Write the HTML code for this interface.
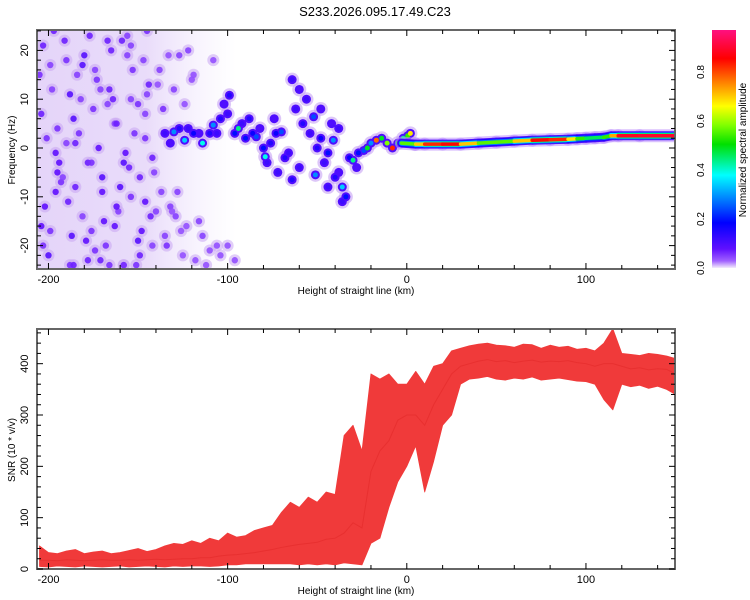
<!DOCTYPE html>
<html><head><meta charset="utf-8"><style>
html,body{margin:0;padding:0;background:#fff;}
svg{display:block;font-family:"Liberation Sans",sans-serif;}
</style></head><body>
<svg id="chart" width="750" height="600" xmlns="http://www.w3.org/2000/svg">
<defs>
<clipPath id="clipTop"><rect x="37" y="30" width="638" height="239"/></clipPath>
<clipPath id="clipBot"><rect x="37" y="329" width="638" height="240"/></clipPath>
<linearGradient id="hazeGrad" x1="0" y1="0" x2="1" y2="0">
<stop offset="0" stop-color="#cfb2f4" stop-opacity="0.55"/>
<stop offset="0.55" stop-color="#cfb2f4" stop-opacity="0.45"/>
<stop offset="1" stop-color="#e4d4fa" stop-opacity="0"/>
</linearGradient>
<linearGradient id="cbar" x1="0" y1="1" x2="0" y2="0">
<stop offset="0" stop-color="#f4ecfc"/><stop offset="0.03" stop-color="#a060ff"/>
<stop offset="0.08" stop-color="#6010ff"/><stop offset="0.19" stop-color="#0000ff"/>
<stop offset="0.29" stop-color="#0080ff"/><stop offset="0.39" stop-color="#00ffff"/>
<stop offset="0.52" stop-color="#00e000"/><stop offset="0.6" stop-color="#80ff00"/>
<stop offset="0.68" stop-color="#ffff00"/><stop offset="0.78" stop-color="#ff8000"/>
<stop offset="0.88" stop-color="#ff0000"/><stop offset="1" stop-color="#ff1080"/>
</linearGradient>
</defs>
<text x="375" y="16" text-anchor="middle" font-size="13">S233.2026.095.17.49.C23</text>
<g id="topPanel"></g>
<g id="botPanel"></g>
<g id="cbPanel"></g>
</svg>
<script>
// ---------- data ----------
const noiseKm=[-203,-198,-194,-190,-186,-181,-177,-172,-168,-164,-160,-156,-152,-148,-144,-141,-200,-195,-189,-184,-179,-175,-170,-165,-161,-157,-153,-149,-146,-201,-196,-191,-187,-182,-178,-173,-169,-163,-159,-154,-150,-145,-142,-204,-199,-193,-185,-180,-174,-167,-162,-155,-151,-147,-143,-138,-134,-130,-126,-122,-118,-136,-128,-120,-114,-110,-104,-132,-124,-116,-108,-100,-96,-188,-171,-158,
 -205,-202,-197,-192,-188,-183,-178,-174,-170,-166,-162,-158,-154,-150,-146,-142,-139,-204,-199,-195,-190,-185,-181,-176,-171,-167,-163,-158,-154,-149,-145,-140,-137,-133,-129,-125,-203,-196,-186,-176,-166,-156,-146,-135,-131,-127,-123,-119,-112,-106];
const noiseF=[21,12,-3,18,6,-14,23,0,-20,10,-8,19,3,-17,13,-5,-22,4,-11,15,-19,8,-6,20,-13,-1,16,-22,7,2,-9,22,-18,10,-3,14,-15,5,22,-10,-19,11,-2,-16,17,-7,1,19,-21,9,-12,-4,-24,18,-14,16,-20,12,-17,20,-23,8,-9,14,-18,-21,-22,-12,9,-15,18,-20,-23,-24,-23,-24,
 15,-12,24,-6,11,3,-23,16,-9,-24,5,-3,21,9,-11,-20,13,7,-17,-5,1,-8,17,-3,12,22,-16,-24,10,-6,24,-13,-9,19,-14,-22,-20,-1,-24,-17,12,23,2,-18,-13,19,-16,15,-24,-20];
const noiseA=[0.07,0.05,0.08,0.06,0.09,0.05,0.07,0.08,0.06,0.07,0.09,0.05,0.06,0.08,0.07,0.05,0.09,0.06,0.07,0.05,0.08,0.06,0.09,0.07,0.05,0.08,0.06,0.07,0.05,0.06,0.08,0.07,0.09,0.05,0.07,0.06,0.08,0.05,0.07,0.06,0.09,0.05,0.07,0.08,0.05,0.06,0.07,0.09,0.06,0.05,0.08,0.07,0.06,0.05,0.07,0.05,0.06,0.05,0.04,0.05,0.04,0.06,0.05,0.04,0.05,0.04,0.04,0.05,0.04,0.05,0.04,0.04,0.04,0.06,0.07,0.06,
 0.06,0.08,0.07,0.05,0.09,0.06,0.07,0.05,0.08,0.06,0.07,0.09,0.05,0.06,0.08,0.05,0.04,0.07,0.06,0.08,0.05,0.07,0.09,0.06,0.05,0.07,0.08,0.06,0.05,0.07,0.06,0.05,0.05,0.04,0.05,0.04,0.06,0.08,0.07,0.06,0.07,0.05,0.06,0.05,0.04,0.05,0.04,0.04,0.04,0.04];
const trailKm=[-135,-130,-127,-124,-119,-114,-110,-108,-104,-100,-99,-96,-94,-90,-86,-84,-80,-79,-76,-73,-70,-68,-64,-64,-62,-58,-56,-52,-51,-50,-48,-46,-44,-41,-40,-38,-36,-34,-32,-30,-27,-24,-22,-20,-17,-14,-11,-8,-5,-2,0.5,2,4.5,-60,-72,-88,-132,-122,-116,-106,-102,-92,-82,-78,-74,-66,-60,-54,-48,-44,-42,-38,-36,-28];
const trailF=[3,3.3,4,1.6,3,1,3,4.7,6,7,10.8,3,4,2,3,2.3,0,-1.8,1,3,3.3,-2,-6.5,14,8,5,10,6.4,-5.5,0,2,-3,-1,1.6,-6,4,-8,-10,-2,-2.5,-1,-0.5,0,1,1.6,2,1,0,1,2,2.5,3,0.8,-4,-5,6,1,4,3,3,9,5,4,-3,6,-1,12,3,8,-8,5,-5,-11,-4];
const trailA=[0.12,0.3,0.15,0.35,0.18,0.4,0.15,0.3,0.15,0.12,0.15,0.2,0.45,0.2,0.18,0.25,0.2,0.4,0.15,0.18,0.25,0.15,0.15,0.12,0.12,0.15,0.12,0.25,0.3,0.15,0.18,0.12,0.2,0.3,0.15,0.12,0.35,0.2,0.18,0.45,0.2,0.25,0.5,0.3,0.8,0.5,0.6,0.85,0.5,0.45,0.55,0.7,0.7,0.12,0.12,0.15,0.1,0.12,0.1,0.12,0.1,0.12,0.1,0.12,0.1,0.12,0.1,0.12,0.1,0.12,0.1,0.1,0.12,0.1];
const ridgeKm=[-3,5,10,20,30,40,50,60,70,80,90,95,100,105,110,114,118,130,150];
const ridgeF=[1,0.8,0.8,0.8,0.8,1,1.2,1.4,1.6,1.7,1.8,1.9,2,2.1,2.2,2.5,2.5,2.5,2.5];
const ridgeA=[0.5,0.65,0.8,0.9,0.85,0.6,0.55,0.6,0.85,0.9,0.8,0.6,0.5,0.45,0.5,0.6,0.9,0.92,0.92];
const snrKm=[-205,-200,-195,-190,-185,-180,-175,-170,-165,-160,-155,-150,-145,-140,-135,-130,-125,-120,-115,-110,-105,-100,-95,-90,-85,-80,-75,-70,-65,-60,-55,-50,-45,-40,-35,-30,-25,-20,-15,-10,-5,0,5,10,15,20,25,30,35,40,45,50,55,60,65,70,75,80,85,90,95,100,105,110,115,120,125,130,135,140,145,150];
const snrMid=[17,17,16,18,17,16,17,18,17,17,18,17,18,19,18,19,20,20,22,22,25,27,28,30,32,35,38,42,45,48,50,52,58,60,70,90,80,190,230,250,290,300,300,280,320,350,380,395,400,405,408,404,406,402,405,407,403,405,404,406,402,400,395,400,400,395,390,392,388,390,389,380];
const snrLo=[5,4,6,5,4,6,5,4,5,6,4,5,6,5,4,6,5,6,6,5,6,8,8,10,10,10,10,10,10,8,10,8,10,8,12,10,8,50,60,120,170,200,240,150,210,280,300,360,370,372,375,370,368,372,370,374,368,370,372,369,366,365,360,330,310,360,355,358,352,356,350,340];
const snrHi=[45,32,30,35,38,30,33,35,30,32,36,40,34,38,45,50,48,55,50,60,55,70,62,65,75,80,85,110,130,120,140,130,150,145,260,280,230,380,370,380,360,360,385,360,395,400,425,430,435,438,440,436,435,432,438,437,430,436,432,434,428,430,425,440,468,420,418,416,420,418,415,410];
const xTickVals=[-200,-100,0,100];
const yTickTop=[-20,-10,0,10,20];
const yTickBot=[0,100,200,300,400];
const cbTicks=[0.0,0.2,0.4,0.6,0.8];

// ---------- scales ----------
const X0=37,X1=675,KM0=-206.4,KM1=149.7;
const xs=k=>X0+(k-KM0)/(KM1-KM0)*(X1-X0);
const fy=f=>148-f*4.88;
const sy=v=>569-v*0.5133;
const cby=a=>268-a*245;
const NS="http://www.w3.org/2000/svg";
function mk(tag,attrs,parent){const e=document.createElementNS(NS,tag);for(const k in attrs)e.setAttribute(k,attrs[k]);parent.appendChild(e);return e;}
const cstops=[[0,[244,236,252]],[0.03,[160,96,255]],[0.08,[96,16,255]],[0.19,[0,0,255]],[0.29,[0,128,255]],[0.39,[0,255,255]],[0.52,[0,224,0]],[0.6,[128,255,0]],[0.68,[255,255,0]],[0.78,[255,128,0]],[0.88,[255,0,0]],[1,[255,16,128]]];
function col(a){a=Math.max(0,Math.min(1,a));for(let i=1;i<cstops.length;i++){if(a<=cstops[i][0]){const t=(a-cstops[i-1][0])/(cstops[i][0]-cstops[i-1][0]);const c=cstops[i-1][1].map((v,j)=>Math.round(v+(cstops[i][1][j]-v)*t));return `rgb(${c.join(',')})`;}}return 'rgb(255,16,128)';}

// ---------- top panel ----------
const topG=document.getElementById('topPanel');
const tp=mk('g',{'clip-path':'url(#clipTop)'},topG);


const haze=mk('rect',{x:xs(-206.4),y:30,width:xs(-95)-xs(-206.4),height:239,fill:'url(#hazeGrad)'},tp);


noiseKm.forEach((k,i)=>{
  const c=mk('circle',{cx:xs(k),cy:fy(noiseF[i]),r:6,fill:'#c9a6f3',opacity:0.55},tp);
  
  
});
noiseKm.forEach((k,i)=>{
  const c=mk('circle',{cx:xs(k),cy:fy(noiseF[i]),r:3.2,fill:col(noiseA[i]),opacity:0.9},tp);
  
  
});
trailKm.forEach((k,i)=>{
  const c=mk('circle',{cx:xs(k),cy:fy(trailF[i]),r:7,fill:'#c6a2f4',opacity:0.6},tp);
  
  
});
trailKm.forEach((k,i)=>{
  const c=mk('circle',{cx:xs(k),cy:fy(trailF[i]),r:4.5,fill:col(0.1)},tp);
  
  
});
trailKm.forEach((k,i)=>{
  const c=mk('circle',{cx:xs(k),cy:fy(trailF[i]),r:2.5,fill:col(trailA[i])},tp);
  
  
});
const layers=[[13,()=>0.02,0.55],[9,()=>0.1,1],[7,a=>a*0.3,1],[5.5,a=>a*0.5,1],[3.5,a=>a,1]];
layers.forEach(L=>{
  for(let i=0;i<ridgeKm.length-1;i++){
    const a=(ridgeA[i]+ridgeA[i+1])/2;
    const ln=mk('line',{x1:xs(ridgeKm[i]),y1:fy(ridgeF[i]),x2:xs(ridgeKm[i+1]),y2:fy(ridgeF[i+1]),stroke:col(L[1](a)),'stroke-width':L[0],'stroke-linecap':'round',opacity:L[2]},tp);
    
    
  }
});

function drawFrame(g,y0,y1,name){
  const r=mk('rect',{x:X0,y:y0,width:X1-X0,height:y1-y0,fill:'none',stroke:'#666','stroke-width':2},g);
  
  
  for(let k=-200;k<=140;k+=20){
    const L=(k%100===0)?6:4;
    mk('line',{x1:xs(k),y1:y1,x2:xs(k),y2:y1-L,stroke:'#000'},g);
    mk('line',{x1:xs(k),y1:y0,x2:xs(k),y2:y0+L,stroke:'#000'},g);
  }
  xTickVals.forEach(v=>{
    const t=mk('text',{x:xs(v),y:y1+14,'text-anchor':'middle','font-size':11},g);
    t.textContent=v;
    
    
  });
  const xt=mk('text',{x:356,y:y1+25,'text-anchor':'middle','font-size':10},g);
  xt.textContent='Height of straight line (km)';
  
  
}
drawFrame(topG,30,269,'spectrogram-frame');
for(let f=-24;f<=24;f+=2){
  const L=(f%10===0)?6:4;
  mk('line',{x1:X0,y1:fy(f),x2:X0+L,y2:fy(f),stroke:'#000'},topG);
  mk('line',{x1:X1,y1:fy(f),x2:X1-L,y2:fy(f),stroke:'#000'},topG);
}
yTickTop.forEach(v=>{
  const t=mk('text',{x:28,y:fy(v),'text-anchor':'middle','font-size':11,transform:`rotate(-90 28 ${fy(v)})`},topG);
  t.textContent=v;
  
  
});
const yt=mk('text',{x:15,y:150,'text-anchor':'middle','font-size':10,transform:'rotate(-90 15 150)'},topG);
yt.textContent='Frequency (Hz)';



// ---------- bottom panel ----------
const botG=document.getElementById('botPanel');
const bp=mk('g',{'clip-path':'url(#clipBot)'},botG);


let pts=snrKm.map((k,i)=>`${xs(k)},${sy(snrHi[i])}`);
for(let i=snrKm.length-1;i>=0;i--)pts.push(`${xs(snrKm[i])},${sy(snrLo[i])}`);
const band=mk('polygon',{points:pts.join(' '),fill:'#f03a3a','stroke':'#f03a3a','stroke-width':0.8,'stroke-linejoin':'round'},bp);


const midLine=mk('polyline',{points:snrKm.map((k,i)=>`${xs(k)},${sy(snrMid[i])}`).join(' '),fill:'none',stroke:'#e83030','stroke-width':1},bp);


drawFrame(botG,329,569,'snr-frame');
for(let v=0;v<=460;v+=20){
  const L=(v%100===0)?6:4;
  mk('line',{x1:X0,y1:sy(v),x2:X0+L,y2:sy(v),stroke:'#000'},botG);
  mk('line',{x1:X1,y1:sy(v),x2:X1-L,y2:sy(v),stroke:'#000'},botG);
}
yTickBot.forEach(v=>{
  const t=mk('text',{x:28,y:sy(v),'text-anchor':'middle','font-size':11,transform:`rotate(-90 28 ${sy(v)})`},botG);
  t.textContent=v;
  
  
});
const yt2=mk('text',{x:15,y:450,'text-anchor':'middle','font-size':10,transform:'rotate(-90 15 450)'},botG);
yt2.textContent='SNR (10 * v/v)';



// ---------- colorbar ----------
const cbG=document.getElementById('cbPanel');
const cr=mk('rect',{x:712,y:30,width:24,height:238,fill:'url(#cbar)'},cbG);


cbTicks.forEach(v=>{
  const t=mk('text',{x:704,y:cby(v),'text-anchor':'middle','font-size':10,transform:`rotate(-90 704 ${cby(v)})`},cbG);
  t.textContent=v.toFixed(1);
  
  
});
const ct=mk('text',{x:746,y:150,'text-anchor':'middle','font-size':10,transform:'rotate(-90 746 150)'},cbG);
ct.textContent='Normalized spectral amplitude';


</script>
</body></html>
